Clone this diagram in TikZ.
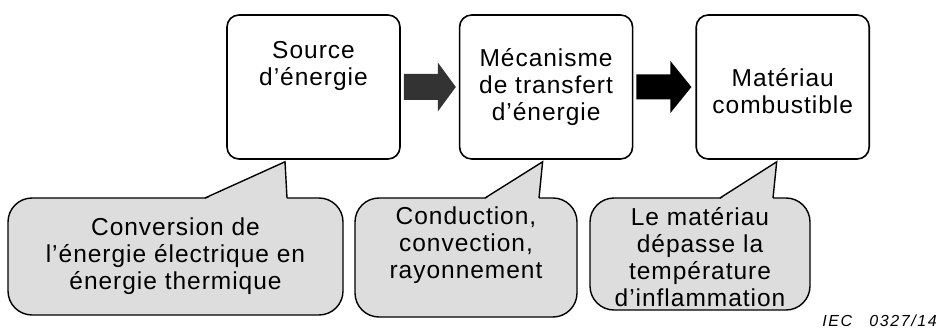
\documentclass[tikz,border=0pt]{standalone}
\usepackage{fontspec}
\setmainfont{Liberation Sans}[LetterSpace=4]
\usepackage{tikz}
\usetikzlibrary{positioning, calc}
\definecolor{notegray}{RGB}{221,221,221}
\definecolor{darkarrow}{RGB}{51,51,51}
\tikzstyle{stage} = [rectangle, rounded corners=12pt, minimum width=173pt, minimum height=144pt, draw=black, line width=1.6pt, fill=white]
\tikzstyle{note} = [rectangle, rounded corners=24pt, draw=black, line width=1.4pt, fill=notegray]
\tikzstyle{txt} = [align=center, inner sep=0pt, font=\fontsize{24.5}{27}\selectfont]
\tikzstyle{pointer} = [line width=1.4pt, line join=miter]

\begin{document}
\begin{tikzpicture}[x=1pt, y=-1pt]
	\useasboundingbox (0,0) rectangle (939,331);
	\node (src) [stage] at (313.5,87) {};
	\node (mech) [stage, right=58pt of src] {};
	\node (mat) [stage, right=62pt of mech] {};
	
	% block arrows between the stages
	\fill [darkarrow] ($(src.east)+(3,-13)$) -- ++(34,0) -- ++(0,-11.5) -- ($(src.east)+(55,0)$) -- ($(src.east)+(37,24.5)$) -- ++(0,-11.5) -- ($(src.east)+(3,13)$) -- cycle;
	\fill [black] ($(mech.east)+(3,-12.5)$) -- ++(34,0) -- ++(0,-13.5) -- ($(mech.east)+(58,0)$) -- ($(mech.east)+(37,26)$) -- ++(0,-13.5) -- ($(mech.east)+(3,12.5)$) -- cycle;
	
	\node (src-t) [txt, below=27pt of src.north] {Source\\d’énergie};
	\node (mech-t) [txt] at (mech) {Mécanisme\\de transfert\\d’énergie};
	\node (mat-t) [txt] at ($(mat)+(0,4)$) {Matériau\\combustible};
	
	\node (conv) [note, minimum width=335pt, minimum height=117pt] at (175.5,256.5) {};
	\node (cond) [note, minimum width=222pt, minimum height=119pt] at (466,257.5) {};
	\node (temp) [note, minimum width=220pt, minimum height=112pt] at (700,254) {};
	
	% pointers of the notes
	\fill [notegray] ($(src.south)+(-28.5,2)$) -- ($(conv.north)+(29.5,2)$) -- ($(conv.north)+(111.5,2)$) -- cycle;
	\draw [pointer] ($(conv.north)+(29.5,0.7)$) -- ($(src.south)+(-28.5,2)$) -- ($(conv.north)+(111.5,0.7)$);
	\fill [notegray] ($(mech.south)+(-3.5,2)$) -- ($(cond.north)+(19,2)$) -- ($(cond.north)+(73,2)$) -- cycle;
	\draw [pointer] ($(cond.north)+(19,0.7)$) -- ($(mech.south)+(-3.5,2)$) -- ($(cond.north)+(73,0.7)$);
	\fill [notegray] ($(mat.south)+(-6,2)$) -- ($(temp.north)+(20,2)$) -- ($(temp.north)+(73,2)$) -- cycle;
	\draw [pointer] ($(temp.north)+(20,0.7)$) -- ($(mat.south)+(-6,2)$) -- ($(temp.north)+(73,0.7)$);
	
	\node (conv-t) [txt] at (conv) {Conversion de\\l’énergie électrique en\\énergie thermique};
	\node (cond-t) [txt] at ($(cond)+(0,-12)$) {Conduction,\\convection,\\rayonnement};
	\node (temp-t) [txt] at ($(temp)+(0,3)$) {Le matériau\\dépasse la\\température\\d’inflammation};
	
	\node (iec) [anchor=base east, inner sep=0pt, font=\fontsize{16}{16}\selectfont\itshape\addfontfeatures{LetterSpace=10}] at (937,326) {IEC\hspace{0.7em} 0327/14};
\end{tikzpicture}
\end{document}
